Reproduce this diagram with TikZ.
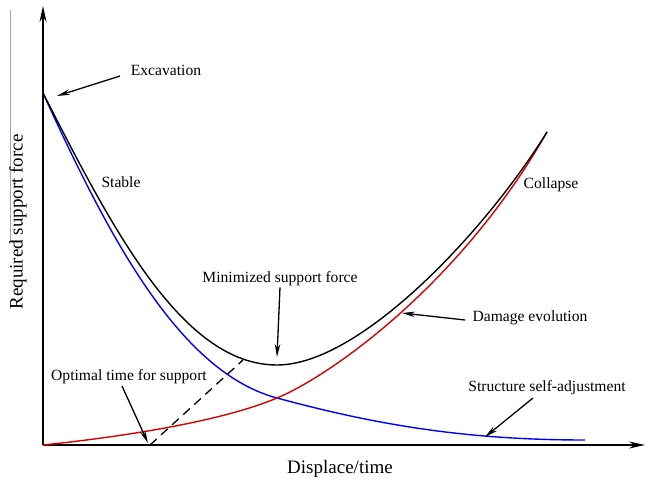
\documentclass[tikz,border=0pt]{standalone}
\usepackage{fontspec}
\setmainfont{Liberation Serif}
\usetikzlibrary{arrows.meta, positioning}
\tikzset{
    axis/.style={line width=1.6pt, -{Stealth[length=16pt, width=7pt]}},
    pointer/.style={line width=1.3pt, -{Stealth[length=13pt, width=5.5pt]}},
    curve/.style={line width=1.4pt},
    annot/.style={font=\fontsize{15.6}{18}\selectfont, inner sep=1pt},
    axlabel/.style={font=\fontsize{19}{22}\selectfont, inner sep=1pt}
}
\begin{document}
\begin{tikzpicture}[x=1pt, y=-1pt]
    \useasboundingbox (0,0) rectangle (648,479);

    % Frame remnant
    \draw[gray!70, line width=0.6pt] (10,10) -- (10,240) -- (23,240);

    % Axes
    \coordinate (O) at (43,445);
    \coordinate (ytop) at (43,6);
    \coordinate (xend) at (645,445);
    \draw[axis] (O) -- (ytop);
    \draw[axis] (O) -- (xend);
    \node[axlabel] (xlab) at (340,469) {Displace/time};
    \node[axlabel, rotate=90] (ylab) at (18,222) {Required support force};

    % Curves
    \coordinate (start) at (43,93);
    \coordinate (cross) at (277,398);
    \coordinate (minpt) at (277,365);
    \coordinate (top) at (547,132);
    \draw[curve, blue] (start) .. controls (110,240) and (180,372) .. (cross)
        .. controls (380,426) and (470,440) .. (585,440);
    \draw[curve, red!85!black] (O) .. controls (120,437) and (220,422) .. (cross)
        .. controls (330,376) and (460,285) .. (top);
    \draw[curve, black] (start) .. controls (112,228) and (182,365) .. (minpt)
        .. controls (360,365) and (485,232) .. (top);

    % Optimal support line
    \coordinate (opt) at (150,445);
    \coordinate (optTop) at (243,360);
    \draw[line width=1.3pt, dashed, dash pattern=on 9pt off 6pt] (opt) -- (optTop);

    % Labels
    \node[annot] (exc) at (166,70) {Excavation};
    \node[annot] (stab) at (121,182) {Stable};
    \node[annot] (coll) at (551,185) {Collapse};
    \node[annot] (minf) at (280,279) {Minimized support force};
    \node[annot] (optt) at (129,377) {Optimal time for support};
    \node[annot] (dmg) at (530,318) {Damage evolution};
    \node[annot] (self) at (547,388) {Structure self-adjustment};

    % Pointers
    \coordinate (excTail) at (120,76);
    \coordinate (excTip) at (57,96);
    \coordinate (minfTip) at (277,357);
    \coordinate (optTail) at (122,386);
    \coordinate (optTip) at (148,443);
    \coordinate (dmgTail) at (465,320);
    \coordinate (dmgTip) at (402,313);
    \coordinate (selfTail) at (533,398);
    \coordinate (selfTip) at (485,437);
    \draw[pointer] (excTail) -- (excTip);
    \draw[pointer] (minf.south) -- (minfTip);
    \draw[pointer] (optTail) -- (optTip);
    \draw[pointer] (dmgTail) -- (dmgTip);
    \draw[pointer] (selfTail) -- (selfTip);
\end{tikzpicture}
\end{document}
